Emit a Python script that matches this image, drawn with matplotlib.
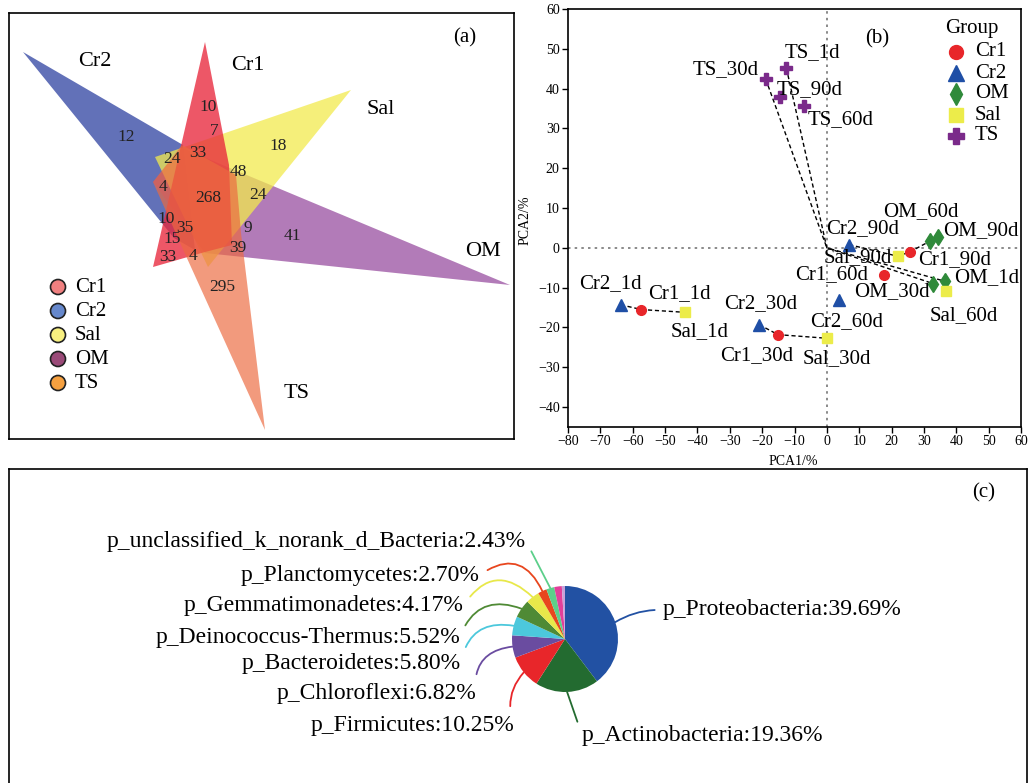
import numpy as np
import matplotlib.pyplot as plt
from matplotlib.patches import Polygon, Circle
from matplotlib.lines import Line2D

plt.rcParams['font.family'] = ['Liberation Serif', 'DejaVu Serif']

W, H = 1029, 783
fig = plt.figure(figsize=(W / 100, H / 100), dpi=100)


def px_axes(x0, y0, x1, y1):
    # place an axes from a pixel box measured from the top-left corner
    return fig.add_axes([x0 / W, 1 - y1 / H, (x1 - x0) / W, (y1 - y0) / H])


### data ###
groups = ["Cr1", "Cr2", "Sal", "OM", "TS"]

# (a) OTU counts of each petal region
region_counts = [10, 7, 12, 18, 24, 33, 48, 4, 268, 24, 10, 35, 9, 41, 15, 39, 33, 4, 295]

# (b) PCA scores, one value per sampling day
days = ["1d", "30d", "60d", "90d"]
cr1_pc1 = [-57.3, -15.1, 17.7, 25.7]
cr1_pc2 = [-15.5, -21.8, -6.7, -1.0]
cr2_pc1 = [-63.7, -20.9, 3.7, 6.9]
cr2_pc2 = [-14.3, -19.3, -13.0, 0.8]
om_pc1 = [36.5, 32.9, 31.9, 34.4]
om_pc2 = [-8.4, -9.0, 1.7, 2.8]
sal_pc1 = [-43.7, -0.1, 36.8, 21.9]
sal_pc2 = [-16.2, -22.7, -10.9, -2.1]
ts_pc1 = [-12.5, -18.9, -7.1, -14.5]
ts_pc2 = [45.1, 42.4, 35.7, 37.9]

# (c) phylum composition (%)
phyla = ["p_Proteobacteria", "p_Actinobacteria", "p_Firmicutes", "p_Chloroflexi",
         "p_Bacteroidetes", "p_Deinococcus-Thermus", "p_Gemmatimonadetes",
         "p_Planctomycetes", "p_unclassified_k_norank_d_Bacteria", "", ""]
phyla_pct = [39.69, 19.36, 10.25, 6.82, 5.80, 5.52, 4.17, 2.70, 2.43, 2.30, 0.96]


### (a) petal diagram ###
ax_a = px_axes(9, 13, 514, 439)
ax_a.set_xlim(9, 514)
ax_a.set_ylim(439, 13)
ax_a.set_xticks([])
ax_a.set_yticks([])
for s in ax_a.spines.values():
    s.set_linewidth(1.2)

petal_color = {"Cr2": "#2e41a1", "OM": "#994fa0", "Sal": "#f2ea4e",
               "Cr1": "#e8283c", "TS": "#ec6a40"}
petal_alpha = {"Cr2": 0.75, "OM": 0.75, "Sal": 0.75, "Cr1": 0.78, "TS": 0.68}
petal_shape = {
    "Cr2": [(23, 52), (183, 145), (195, 250), (174, 238)],
    "OM": [(510, 285), (182, 148), (153, 182), (205, 253)],
    "Sal": [(351, 90), (155, 157), (208, 267)],
    "Cr1": [(205, 42), (229, 165), (232, 245), (205, 252), (153, 267)],
    "TS": [(265, 430), (186, 256), (153, 182), (182, 145), (236, 175), (241, 233)],
}
for g in ["Cr2", "OM", "Sal", "Cr1", "TS"]:
    ax_a.add_patch(Polygon(petal_shape[g], closed=True, facecolor=petal_color[g],
                           edgecolor="none", alpha=petal_alpha[g]))

count_xy = [(208, 107), (214, 131), (126, 137), (278, 146), (172, 159), (198, 153),
            (238, 172), (163, 187), (208, 198), (258, 195), (166, 219), (185, 228),
            (248, 228), (292, 236), (172, 239), (238, 248), (168, 257), (193, 256),
            (222, 287)]
for n, (x, y) in zip(region_counts, count_xy):
    ax_a.text(x, y, str(n), fontsize=12.5, ha="center", va="center", color="#222222")

petal_label_xy = {"Cr2": (95, 61), "Cr1": (248, 65), "Sal": (381, 109),
                  "OM": (483, 251), "TS": (297, 393)}
for g, (x, y) in petal_label_xy.items():
    ax_a.text(x, y, g, fontsize=16, ha="center", va="center")
ax_a.text(465, 38, "(a)", fontsize=15, ha="center", va="center")

legend_a_color = {"Cr1": "#f08080", "Cr2": "#6688cc", "Sal": "#f8f080",
                  "OM": "#9a4a78", "TS": "#f5a040"}
for i, g in enumerate(groups):
    y = 287 + i * 24
    ax_a.add_patch(Circle((58, y), 7.5, facecolor=legend_a_color[g], edgecolor="#222222", lw=1.2))
    ax_a.text(75, y, g, fontsize=15, ha="left", va="center")


### (b) PCA ###
ax_b = px_axes(568, 9, 1021, 427)
ax_b.set_xlim(-80, 60)
ax_b.set_ylim(-45, 60)
ax_b.set_xticks(np.arange(-80, 61, 10))
ax_b.set_yticks(np.arange(-40, 61, 10))
ax_b.tick_params(direction="out", length=4, width=1, labelsize=10, pad=2)
for s in ax_b.spines.values():
    s.set_linewidth(1.2)
ax_b.axhline(0, color="#777777", ls=(0, (1.5, 2.5)), lw=1.2, zorder=1)
ax_b.axvline(0, color="#777777", ls=(0, (1.5, 2.5)), lw=1.2, zorder=1)

pcs = {"Cr1": (cr1_pc1, cr1_pc2), "Cr2": (cr2_pc1, cr2_pc2), "OM": (om_pc1, om_pc2),
       "Sal": (sal_pc1, sal_pc2), "TS": (ts_pc1, ts_pc2)}
style = {"Cr1": dict(marker="o", color="#e8262a", ms=7),
         "Cr2": dict(marker="^", color="#1f4fa6", ms=8),
         "OM": dict(marker="d", color="#2f8a3a", ms=8),
         "Sal": dict(marker="s", color="#ecec4a", ms=7),
         "TS": dict(marker="P", color="#7a2a8a", ms=9)}


def pt(g, d):
    i = days.index(d)
    return pcs[g][0][i], pcs[g][1][i]


# dashed links between samples
links = [[pt("Cr2", "1d"), pt("Cr1", "1d"), pt("Sal", "1d")],
         [pt("Cr2", "30d"), pt("Cr1", "30d"), pt("Sal", "30d")],
         [pt("TS", "30d"), (0, 0), pt("OM", "30d")],
         [pt("TS", "1d"), (0, 0), pt("OM", "1d")],
         [pt("Cr2", "90d"), pt("Sal", "90d"), pt("Cr1", "90d"), pt("OM", "90d")]]
for path in links:
    xs, ys = zip(*path)
    ax_b.plot(xs, ys, ls=(0, (3, 2)), color="black", lw=1, zorder=2)

for g in ["Cr1", "Cr2", "OM", "Sal", "TS"]:
    st = style[g]
    ax_b.plot(pcs[g][0], pcs[g][1], ls="none", marker=st["marker"], color=st["color"],
              ms=st["ms"], mec=st["color"], zorder=3)

label_xy = {("TS", "1d"): (-4.4, 49.1), ("TS", "30d"): (-31.3, 44.9),
            ("TS", "90d"): (-5.3, 39.8), ("TS", "60d"): (4.3, 32.3),
            ("OM", "60d"): (29.1, 9.2), ("Cr2", "90d"): (11.2, 4.8),
            ("OM", "90d"): (47.6, 4.4), ("Sal", "90d"): (9.7, -2.5),
            ("Cr1", "90d"): (39.6, -2.9), ("Cr1", "60d"): (1.4, -6.7),
            ("OM", "1d"): (49.4, -7.4), ("OM", "30d"): (20.0, -10.9),
            ("Cr2", "1d"): (-66.8, -9.0), ("Cr1", "1d"): (-45.7, -11.5),
            ("Sal", "60d"): (42.2, -17.0), ("Cr2", "30d"): (-20.4, -14.0),
            ("Cr2", "60d"): (6.1, -18.6), ("Sal", "1d"): (-39.3, -21.0),
            ("Cr1", "30d"): (-21.8, -27.1), ("Sal", "30d"): (3.0, -27.9)}
for (g, d), (x, y) in label_xy.items():
    ax_b.text(x, y, f"{g}_{d}", fontsize=15, ha="center", va="center", zorder=4)

ax_b.text(15.5, 52.5, "(b)", fontsize=15, ha="center", va="center")

# group legend
fig.text(972 / W, 1 - 28 / H, "Group", fontsize=15, ha="center", va="center")
for i, g in enumerate(["Cr1", "Cr2", "OM", "Sal", "TS"]):
    yf = 1 - (52 + i * 21) / H
    st = style[g]
    fig.add_artist(Line2D([956 / W], [yf], marker=st["marker"], color=st["color"],
                          ms=st["ms"] + 3, ls="none", transform=fig.transFigure))
    fig.text(975 / W, yf, g, fontsize=15, ha="left", va="center")

fig.text(525 / W, 1 - 220 / H, "PCA2/%", fontsize=10, rotation=90, ha="center", va="center")
fig.text(793 / W, 1 - 461 / H, "PCA1/%", fontsize=10, ha="center", va="center")


### (c) phylum pie ###
ax_c = px_axes(9, 469, 1027, 783)
pie_colors = ["#2251a3", "#236b30", "#e8262a", "#6a4ca0", "#4cc8dc", "#4f8a35",
              "#e8e84a", "#e8461e", "#5ccf8a", "#e23f9a", "#c8a0d8"]
cx, cy, r = 565, 144, 53
wedges, _ = ax_c.pie(phyla_pct, colors=pie_colors, startangle=90, counterclock=False,
                     center=(cx, cy), radius=r, wedgeprops=dict(linewidth=0))
ax_c.set_xlim(9, 1027)
ax_c.set_ylim(0, 314)
ax_c.set_frame_on(True)
ax_c.spines["bottom"].set_visible(False)
for s in ax_c.spines.values():
    s.set_linewidth(1.2)
ax_c.text(984, 783 - 493, "(c)", fontsize=15, ha="center", va="center")

# label anchor (x, y), alignment and curvature of the leader line
label_pos = [(663, 173, "left", 0.15), (582, 48, "left", 0.0), (514, 58, "right", -0.3),
             (476, 90, "right", -0.5), (461, 119, "right", -0.5), (460, 146, "right", -0.5),
             (464, 178, "right", -0.6), (480, 208, "right", -0.6), (526, 242, "right", 0.0)]
for w, name, pct, col, (tx, ty, ha, rad) in zip(wedges, phyla, phyla_pct, pie_colors, label_pos):
    ang = np.deg2rad((w.theta1 + w.theta2) / 2)
    ex, ey = cx + r * np.cos(ang), cy + r * np.sin(ang)
    rel = (1, 0.5) if ha == "right" else (0, 0.5)
    ax_c.annotate(f"{name}:{pct:.2f}%", xy=(ex, ey), xytext=(tx, ty), ha=ha, va="center",
                  fontsize=17,
                  arrowprops=dict(arrowstyle="-", color=col, lw=1.3, shrinkA=4, shrinkB=0,
                                  relpos=rel, connectionstyle=f"arc3,rad={rad}"))

fig.savefig("out.png", dpi=100)
